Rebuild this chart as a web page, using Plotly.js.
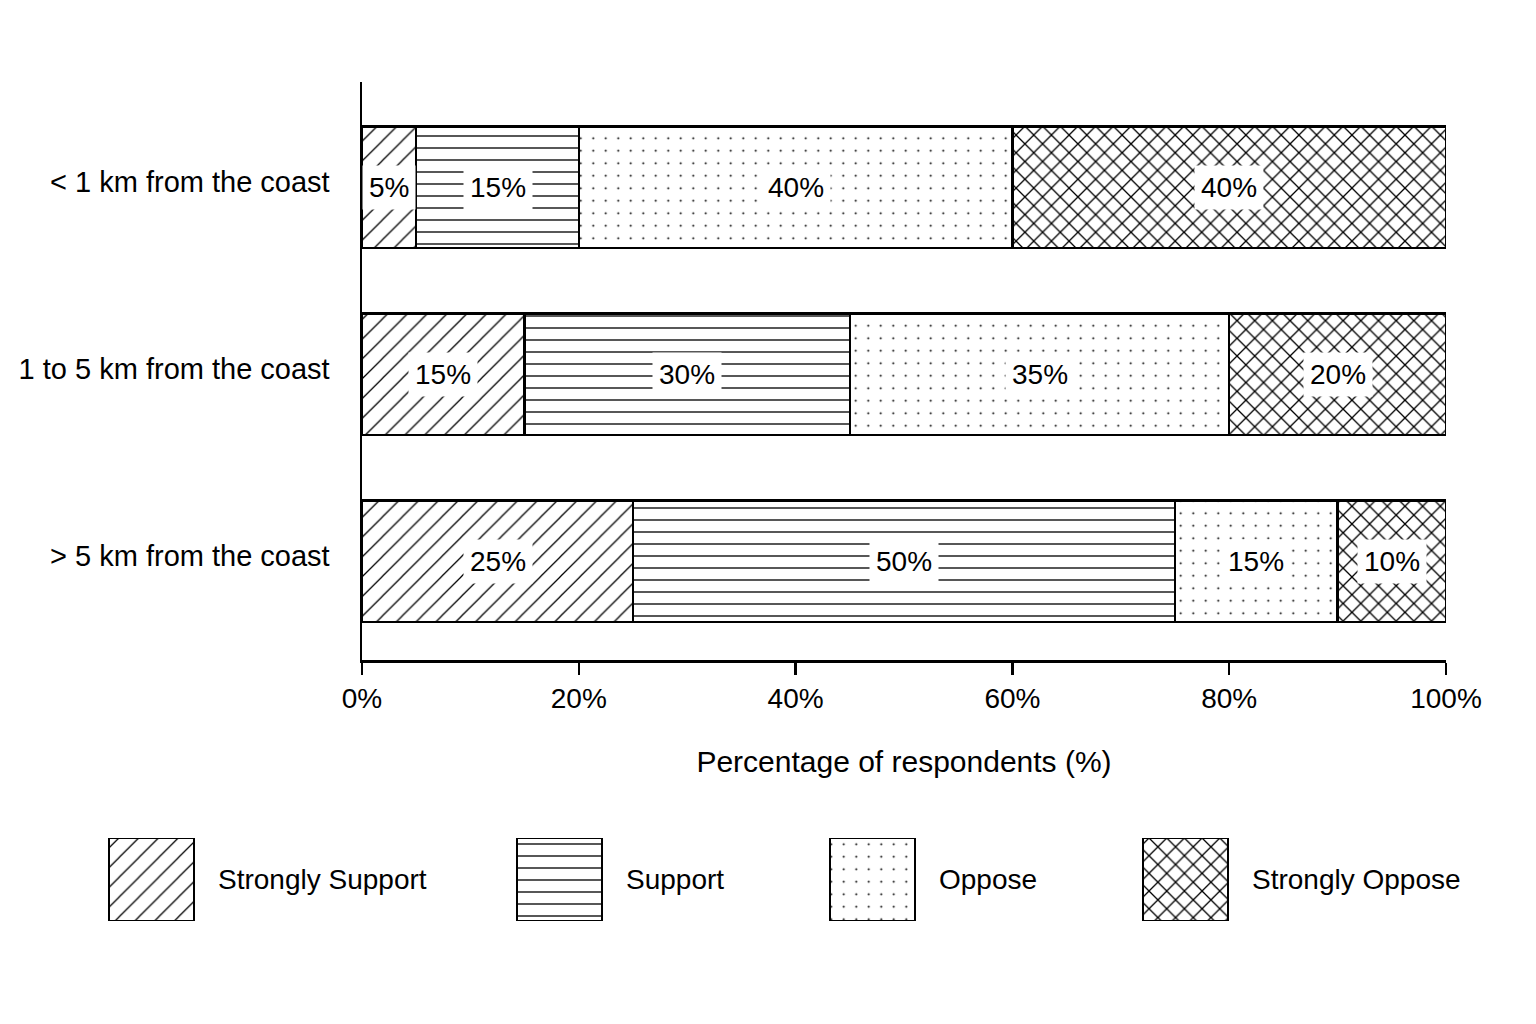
<!DOCTYPE html>
<html>
<head>
<meta charset="utf-8">
<script src="https://cdn.plot.ly/plotly-3.0.1.min.js"></script>
<style>
  html, body { margin: 0; padding: 0; background: #fff; }
  #chart { width: 1536px; height: 1024px; }
</style>
</head>
<body>
<div id="chart"></div>
<script>
// data
var categories = ['< 1 km from the coast', '1 to 5 km from the coast', '> 5 km from the coast'];
var seriesNames = ['Strongly Support', 'Support', 'Oppose', 'Strongly Oppose'];
var stronglySupport = [5, 15, 25];
var support = [15, 30, 50];
var oppose = [40, 35, 15];
var stronglyOppose = [40, 20, 10];
var xTicks = [0, 20, 40, 60, 80, 100];
var xTickLabels = ['0%', '20%', '40%', '60%', '80%', '100%'];

var seriesValues = [stronglySupport, support, oppose, stronglyOppose];

// hatch styles, one per series
var patterns = [
  {shape: '/', size: 14, solidity: 0.09},
  {shape: '-', size: 12, solidity: 0.11},
  {shape: '.', size: 12.5, solidity: 0.02},
  {shape: 'x', size: 12.5, solidity: 0.2}
];

var FONT = '"Liberation Sans", Arial, sans-serif';
var W = 1536, H = 1024;

// legend key boxes (px on the page), laid out like the original key
var keyLeft = [109, 517, 830, 1143];
var keyW = 85;

var data = [];
var annotations = [];
var cum = [0, 0, 0];

for (var i = 0; i < seriesNames.length; i++) {
  var vals = seriesValues[i];
  var pat = patterns[i];
  var marker = {
    color: '#ffffff',
    line: {color: '#000000', width: 2.5},
    pattern: {shape: pat.shape, size: pat.size, solidity: pat.solidity,
              fgcolor: '#000000', bgcolor: '#ffffff', fillmode: 'replace'}
  };
  data.push({
    type: 'bar',
    orientation: 'h',
    name: seriesNames[i],
    x: vals,
    y: categories,
    width: 0.65,
    marker: marker,
    hoverinfo: 'skip'
  });

  // value labels on white patches
  for (var j = 0; j < categories.length; j++) {
    annotations.push({
      xref: 'x', yref: 'y',
      x: cum[j] + vals[j] / 2, y: categories[j],
      text: vals[j] + '%',
      showarrow: false,
      bgcolor: '#ffffff',
      borderpad: 6,
      font: {family: FONT, size: 28, color: '#000'}
    });
    cum[j] += vals[j];
  }

  // key box drawn as a one-bar trace on its own small axes
  var cx = (keyLeft[i] + keyW / 2) / W;
  data.push({
    type: 'bar',
    x: [cx],
    y: [1],
    width: [keyW / W],
    xaxis: 'x2',
    yaxis: 'y2',
    marker: marker,
    hoverinfo: 'skip'
  });
  annotations.push({
    xref: 'paper', yref: 'paper',
    x: (keyLeft[i] + keyW + 22) / W, y: 1 - 879 / H,
    xanchor: 'left', yanchor: 'middle',
    text: seriesNames[i],
    showarrow: false,
    font: {family: FONT, size: 28, color: '#000'}
  });
}

var layout = {
  width: W,
  height: H,
  margin: {l: 0, r: 0, t: 0, b: 0},
  paper_bgcolor: '#ffffff',
  plot_bgcolor: '#ffffff',
  showlegend: false,
  barmode: 'stack',
  font: {family: FONT, color: '#000'},
  xaxis: {
    domain: [362 / W, 1446 / W],
    range: [0, 100],
    tickmode: 'array',
    tickvals: xTicks,
    ticktext: xTickLabels,
    ticks: 'outside',
    ticklen: 12,
    tickwidth: 2.5,
    tickcolor: '#000',
    showline: true,
    linecolor: '#000',
    linewidth: 2.5,
    showgrid: false,
    zeroline: false,
    tickfont: {family: FONT, size: 28},
    title: {text: 'Percentage of respondents (%)', font: {family: FONT, size: 30}, standoff: 38}
  },
  yaxis: {
    domain: [1 - 660 / H, 1 - 82 / H],
    type: 'category',
    categoryorder: 'array',
    categoryarray: categories,
    range: [2.527, -0.564],
    ticks: '',
    ticklabelstandoff: 24,
    ticklabelshift: 6,
    showline: true,
    linecolor: '#000',
    linewidth: 2.5,
    showgrid: false,
    zeroline: false,
    tickfont: {family: FONT, size: 29}
  },
  xaxis2: {domain: [0, 1], range: [0, 1], visible: false, fixedrange: true},
  yaxis2: {domain: [1 - 921 / H, 1 - 838 / H], range: [0, 1], visible: false, fixedrange: true},
  annotations: annotations
};

Plotly.newPlot('chart', data, layout, {staticPlot: true, displayModeBar: false});
</script>
</body>
</html>
